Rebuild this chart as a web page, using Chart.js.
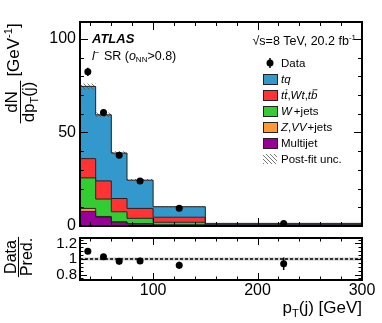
<!DOCTYPE html>
<html>
<head>
<meta charset="utf-8">
<script src="https://cdn.jsdelivr.net/npm/chart.js@4.4.1/dist/chart.umd.min.js"></script>
<style>
  html, body { margin: 0; padding: 0; background: #fff; }
  #wrap { position: relative; width: 382px; height: 323px; }
  #wrap canvas { position: absolute; left: 0; top: 0; }
</style>
</head>
<body>
<div id="wrap">
  <canvas id="ratioChart" width="382" height="323"></canvas>
  <canvas id="mainChart" width="382" height="323"></canvas>
</div>
<script>
// Binning (GeV) and bin centres
const binEdges = [30, 45, 60, 75, 100, 150, 300];
const binCenters = [37.5, 52.5, 67.5, 87.5, 125, 225];

// Stacked predictions, dN/dpT per bin (bottom to top)
const multijet = [7.8, 4.6, 2.0, 1.0, 0.4, 0.05];
const zvvJets  = [1.6, 0.5, 0.3, 0.3, 0.2, 0.05];
const wJets    = [16.3, 9.3, 5.3, 2.8, 1.4, 0.25];
const ttWtTb   = [10.3, 9.7, 7.1, 5.3, 2.7, 0.35];
const tq       = [38.6, 35.3, 24.3, 15.1, 5.6, 0.7];
const postFitUnc = [1.6, 1.2, 0.9, 0.6, 0.3, 0.05];

// Data
const dataVals = [82.4, 60.6, 37.8, 24.0, 9.5, 1.3];
const dataErr  = [2.2, 1.9, 1.5, 1.0, 0.45, 0.1];

// Ratio panel
const ratioVals = [1.10, 1.03, 0.97, 0.975, 0.92, 0.94];
const ratioErr  = [0.03, 0.03, 0.04, 0.04, 0.045, 0.08];
const ratioUnc  = [0.02, 0.02, 0.02, 0.02, 0.02, 0.02];

// Tick labels
const mainYTicks = [0, 50, 100];
const ratioYTicks = [0.8, 1, 1.2];
const ratioYTickLabels = ['0.8', '1', '1.2'];
const xTicks = [100, 200, 300];

const FONT = '"Liberation Sans", Arial, Helvetica, sans-serif';
const colors = {
  tq: '#3399cc',
  tt: '#ff3333',
  w: '#33cc33',
  z: '#ff9933',
  mj: '#990099',
  line: '#222222'
};

// histogram as stepped points: value of bin i starts at left edge i
function steps(vals) {
  return binEdges.map((x, i) => ({ x: x, y: vals[Math.min(i, vals.length - 1)] }));
}

function makeHatch(ctx) {
  const c = document.createElement('canvas');
  c.width = 4; c.height = 4;
  const g = c.getContext('2d');
  g.strokeStyle = '#555';
  g.lineWidth = 0.8;
  g.beginPath();
  g.moveTo(0, 0); g.lineTo(4, 4);
  g.moveTo(-1, 3); g.lineTo(1, 5);
  g.moveTo(3, -1); g.lineTo(5, 1);
  g.stroke();
  return ctx.createPattern(c, 'repeat');
}

// draw a run of text pieces (italic, sub/superscripts ...)
function drawParts(ctx, x, y, parts, align) {
  let w = 0;
  parts.forEach(p => {
    ctx.font = `${p.style || ''} ${p.size}px ${FONT}`;
    p.w = ctx.measureText(p.t).width + (p.gap || 0);
    w += p.w;
  });
  let cx = x;
  if (align === 'right') cx = x - w;
  if (align === 'center') cx = x - w / 2;
  ctx.textAlign = 'left';
  ctx.textBaseline = 'alphabetic';
  parts.forEach(p => {
    ctx.font = `${p.style || ''} ${p.size}px ${FONT}`;
    ctx.fillText(p.t, cx, y + (p.dy || 0));
    if (p.over) {
      ctx.save();
      ctx.lineWidth = 0.8;
      ctx.strokeStyle = ctx.fillStyle;
      ctx.beginPath();
      ctx.moveTo(cx + 1.5, y - p.size * 0.8);
      ctx.lineTo(cx + p.w, y - p.size * 0.8);
      ctx.stroke();
      ctx.restore();
    }
    cx += p.w;
  });
  return w;
}

function histDs(label, vals, color, fill) {
  return {
    label: label,
    data: steps(vals),
    stack: 'bkg',
    stepped: true,
    fill: fill,
    backgroundColor: color,
    borderColor: colors.line,
    borderWidth: 1,
    pointRadius: 0
  };
}

// ROOT-like frame with inner ticks on all four sides
function framePlugin(cfg) {
  return {
    id: 'frame',
    afterDatasetsDraw(chart) {
      const { ctx, chartArea: a, scales: { x, y } } = chart;
      ctx.save();
      ctx.strokeStyle = '#000';
      ctx.lineWidth = 1;
      ctx.beginPath();
      for (let k = 0; ; k++) {
        const v = cfg.xStart + k * cfg.xStep;
        if (v > x.max + 1e-6) break;
        const major = cfg.xMajor.some(m => Math.abs(m - v) < 1e-6);
        const len = major ? cfg.xMajorLen : cfg.xMinorLen;
        const px = Math.round(x.getPixelForValue(v)) + 0.5;
        ctx.moveTo(px, a.bottom); ctx.lineTo(px, a.bottom - len);
        ctx.moveTo(px, a.top); ctx.lineTo(px, a.top + len);
      }
      for (let k = 0; ; k++) {
        const v = cfg.yStart + k * cfg.yStep;
        if (v > y.max + 1e-6) break;
        const major = cfg.yMajor.some(m => Math.abs(m - v) < 1e-6);
        const len = major ? cfg.yMajorLen : cfg.yMinorLen;
        const py = Math.round(y.getPixelForValue(v)) + 0.5;
        ctx.moveTo(a.left, py); ctx.lineTo(a.left + len, py);
        ctx.moveTo(a.right, py); ctx.lineTo(a.right - len, py);
      }
      ctx.stroke();
      ctx.lineWidth = 2;
      ctx.strokeRect(a.left, a.top, a.right - a.left, a.bottom - a.top);
      ctx.restore();
    }
  };
}

// vertical error bars for one dataset
function errorBarPlugin(dsIndex, vals, errs) {
  return {
    id: 'errbars' + dsIndex,
    afterDatasetsDraw(chart) {
      const { ctx, scales: { y } } = chart;
      const meta = chart.getDatasetMeta(dsIndex);
      ctx.save();
      ctx.strokeStyle = '#000';
      ctx.lineWidth = 1.5;
      ctx.beginPath();
      meta.data.forEach((pt, i) => {
        ctx.moveTo(pt.x, y.getPixelForValue(vals[i] - errs[i]));
        ctx.lineTo(pt.x, y.getPixelForValue(vals[i] + errs[i]));
      });
      ctx.stroke();
      ctx.restore();
    }
  };
}

const mainCtx = document.getElementById('mainChart').getContext('2d');
const hatch = makeHatch(mainCtx);

const total = tq.map((_, i) => multijet[i] + zvvJets[i] + wJets[i] + ttWtTb[i] + tq[i]);
const uncLo = total.map((t, i) => t - postFitUnc[i]);
const uncHi = total.map((t, i) => t + postFitUnc[i]);

// texts and legend of the upper panel
const mainTextPlugin = {
  id: 'mainText',
  afterDraw(chart) {
    const ctx = chart.ctx;
    ctx.save();
    ctx.fillStyle = '#000';
    drawParts(ctx, 92, 43, [{ t: 'ATLAS', size: 13, style: 'italic bold' }]);
    drawParts(ctx, 92, 60, [
      { t: 'l', size: 12.5, style: 'italic' },
      { t: '\u2212', size: 8, dy: -5, gap: 1 },
      { t: ' SR (', size: 12.5 },
      { t: 'o', size: 12.5, style: 'italic' },
      { t: 'NN', size: 8, dy: 2 },
      { t: '>0.8)', size: 12.5 }
    ]);
    drawParts(ctx, 356, 45, [
      { t: '\u221As=8 TeV, 20.2 fb', size: 12.5 },
      { t: '-1', size: 8, dy: -5 }
    ], 'right');

    // legend
    const rows = [
      { key: 'Data' },
      { color: colors.tq, parts: [{ t: 'tq', size: 11.5, style: 'italic' }] },
      { color: colors.tt, parts: [
        { t: 't', size: 11.5, style: 'italic' },
        { t: 't', size: 11.5, style: 'italic', over: true },
        { t: ',', size: 11.5 },
        { t: 'Wt', size: 11.5, style: 'italic' },
        { t: ',', size: 11.5 },
        { t: 't', size: 11.5, style: 'italic' },
        { t: 'b', size: 11.5, style: 'italic', over: true }
      ] },
      { color: colors.w, parts: [{ t: 'W', size: 11.5, style: 'italic', gap: 2 }, { t: '+jets', size: 11.5 }] },
      { color: colors.z, parts: [
        { t: 'Z', size: 11.5, style: 'italic' }, { t: ',', size: 11.5 },
        { t: 'VV', size: 11.5, style: 'italic', gap: 1 }, { t: '+jets', size: 11.5 }
      ] },
      { color: colors.mj, parts: [{ t: 'Multijet', size: 11.5 }] },
      { hatch: true, parts: [{ t: 'Post-fit unc.', size: 11.5 }] }
    ];
    rows.forEach((r, i) => {
      const cy = 63 + i * 16;
      if (r.key === 'Data') {
        ctx.beginPath();
        ctx.arc(270, cy, 3.5, 0, Math.PI * 2);
        ctx.fill();
        ctx.lineWidth = 1.5;
        ctx.strokeStyle = '#000';
        ctx.beginPath();
        ctx.moveTo(270, cy - 5); ctx.lineTo(270, cy + 5);
        ctx.stroke();
        drawParts(ctx, 281, cy + 4, [{ t: 'Data', size: 11.5 }]);
        return;
      }
      if (r.hatch) {
        ctx.fillStyle = hatch;
        ctx.fillRect(263, cy - 5, 14, 10);
      } else {
        ctx.fillStyle = r.color;
        ctx.fillRect(263, cy - 5, 14, 10);
        ctx.strokeStyle = colors.line;
        ctx.lineWidth = 1;
        ctx.strokeRect(263.5, cy - 4.5, 14, 10);
      }
      ctx.fillStyle = '#000';
      drawParts(ctx, 281, cy + 4, r.parts);
    });

    // y axis title
    ctx.save();
    ctx.translate(0, 102);
    ctx.rotate(-Math.PI / 2);
    drawParts(ctx, 0, 17, [{ t: 'dN', size: 17 }], 'center');
    const dw = drawParts(ctx, 0, 34, [
      { t: 'dp', size: 17 }, { t: 'T', size: 11, dy: 4 }, { t: '(j)', size: 17 }
    ], 'center');
    ctx.lineWidth = 1;
    ctx.strokeStyle = '#000';
    ctx.beginPath();
    ctx.moveTo(-dw / 2 - 1, 20.5); ctx.lineTo(dw / 2 + 1, 20.5);
    ctx.stroke();
    drawParts(ctx, 52, 19, [
      { t: '[GeV', size: 17 }, { t: '-1', size: 11, dy: -7 }, { t: ']', size: 17 }
    ], 'center');
    ctx.restore();
    ctx.restore();
  }
};

new Chart(mainCtx, {
  type: 'line',
  data: {
    datasets: [
      histDs('Multijet', multijet, colors.mj, 'origin'),
      histDs('Z,VV+jets', zvvJets, colors.z, '-1'),
      histDs('W+jets', wJets, colors.w, '-1'),
      histDs('tt,Wt,tb', ttWtTb, colors.tt, '-1'),
      histDs('tq', tq, colors.tq, '-1'),
      { label: 'uncLo', data: steps(uncLo), stack: 'uncLo', stepped: true,
        borderColor: 'rgba(0,0,0,0)', pointRadius: 0, fill: false },
      { label: 'Post-fit unc.', data: steps(uncHi), stack: 'uncHi', stepped: true,
        borderColor: 'rgba(0,0,0,0)', pointRadius: 0, fill: '-1', backgroundColor: hatch, order: -0.5 },
      { type: 'scatter', label: 'Data', data: binCenters.map((x, i) => ({ x: x, y: dataVals[i] })),
        stack: 'data', pointRadius: 3.5, backgroundColor: '#000', borderColor: '#000', borderWidth: 0, order: -1 }
    ]
  },
  options: {
    responsive: false,
    animation: false,
    events: [],
    layout: { padding: { left: 0, right: 20, top: 22, bottom: 97 }, autoPadding: false },
    plugins: {
      legend: { display: false },
      tooltip: { enabled: false },
      filler: { drawTime: 'beforeDatasetsDraw', propagate: false }
    },
    scales: {
      x: { type: 'linear', min: 30, max: 300, display: false },
      y: {
        stacked: true, min: 0, max: 109,
        grid: { display: false, drawTicks: false },
        border: { display: false },
        afterFit: s => { s.width = 80; },
        afterBuildTicks: s => { s.ticks = mainYTicks.map(v => ({ value: v })); },
        ticks: { font: { family: FONT, size: 16 }, color: '#000', padding: 4 }
      }
    }
  },
  plugins: [
    errorBarPlugin(7, dataVals, dataErr),
    framePlugin({ xStart: 40, xStep: 20, xMajor: [100, 200], xMajorLen: 8, xMinorLen: 4,
                  yStart: 0, yStep: 10, yMajor: [0, 50, 100], yMajorLen: 8, yMinorLen: 4 }),
    mainTextPlugin
  ]
});

// ratio panel
const ratioTextPlugin = {
  id: 'ratioText',
  afterDraw(chart) {
    const ctx = chart.ctx;
    ctx.save();
    ctx.fillStyle = '#000';
    ctx.translate(0, 257);
    ctx.rotate(-Math.PI / 2);
    drawParts(ctx, 0, 16, [{ t: 'Data', size: 16 }], 'center');
    const pw = drawParts(ctx, 0, 32, [{ t: 'Pred.', size: 16 }], 'center');
    ctx.lineWidth = 1;
    ctx.strokeStyle = '#000';
    ctx.beginPath();
    ctx.moveTo(-pw / 2 - 1, 18.5); ctx.lineTo(pw / 2 + 1, 18.5);
    ctx.stroke();
    ctx.restore();

    ctx.save();
    ctx.fillStyle = '#000';
    drawParts(ctx, 362, 313, [
      { t: 'p', size: 17 }, { t: 'T', size: 11, dy: 4 }, { t: '(j) [GeV]', size: 17 }
    ], 'right');
    ctx.restore();
  }
};

new Chart(document.getElementById('ratioChart').getContext('2d'), {
  type: 'line',
  data: {
    datasets: [
      { label: 'bandLo', data: steps(ratioUnc.map(u => 1 - u)), stepped: true,
        borderColor: 'rgba(0,0,0,0)', pointRadius: 0, fill: false },
      { label: 'bandHi', data: steps(ratioUnc.map(u => 1 + u)), stepped: true,
        borderColor: 'rgba(0,0,0,0)', pointRadius: 0, fill: '-1', backgroundColor: '#cccccc' },
      { label: 'ref', data: [{ x: binEdges[0], y: 1 }, { x: binEdges[binEdges.length - 1], y: 1 }],
        borderColor: '#000', borderWidth: 1.5, borderDash: [3, 2], pointRadius: 0, fill: false },
      { type: 'scatter', label: 'ratio', data: binCenters.map((x, i) => ({ x: x, y: ratioVals[i] })),
        pointRadius: 3.5, backgroundColor: '#000', borderColor: '#000', borderWidth: 0, order: -1 }
    ]
  },
  options: {
    responsive: false,
    animation: false,
    events: [],
    layout: { padding: { left: 0, right: 20, top: 238, bottom: 13 }, autoPadding: false },
    plugins: {
      legend: { display: false },
      tooltip: { enabled: false },
      filler: { drawTime: 'beforeDatasetsDraw', propagate: false }
    },
    scales: {
      x: {
        type: 'linear', min: 30, max: 300,
        grid: { display: false, drawTicks: false },
        border: { display: false },
        afterFit: s => { s.height = 30; },
        afterBuildTicks: s => { s.ticks = xTicks.map(v => ({ value: v })); },
        ticks: { font: { family: FONT, size: 16 }, color: '#000', padding: 1, maxRotation: 0, autoSkip: false }
      },
      y: {
        min: 0.73, max: 1.27,
        grid: { display: false, drawTicks: false },
        border: { display: false },
        afterFit: s => { s.width = 80; },
        afterBuildTicks: s => { s.ticks = ratioYTicks.map(v => ({ value: v })); },
        ticks: { font: { family: FONT, size: 15 }, color: '#000', padding: 3,
                 callback: (v, i) => ratioYTickLabels[i] }
      }
    }
  },
  plugins: [
    errorBarPlugin(3, ratioVals, ratioErr),
    framePlugin({ xStart: 40, xStep: 20, xMajor: [100, 200], xMajorLen: 7, xMinorLen: 3.5,
                  yStart: 0.75, yStep: 0.05, yMajor: [0.8, 1, 1.2], yMajorLen: 7, yMinorLen: 3.5 }),
    ratioTextPlugin
  ]
});
</script>
</body>
</html>
